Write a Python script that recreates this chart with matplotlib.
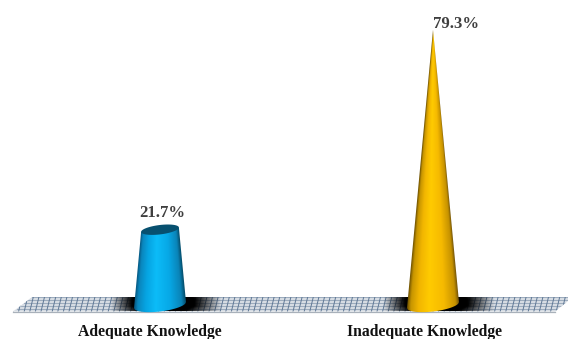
import numpy as np
import matplotlib
matplotlib.use('Agg')
import matplotlib.pyplot as plt
from matplotlib.colors import LinearSegmentedColormap
from matplotlib.patches import Polygon

categories = ['Adequate Knowledge', 'Inadequate Knowledge']
values = [21.7, 79.3]
labels = ['21.7%', '79.3%']
cone_colors = [
    [(0, '#05557e'), (0.07, '#0a86bd'), (0.22, '#06a4e2'), (0.42, '#0cbcf8'),
     (0.7, '#07a8e6'), (0.92, '#0a84b8'), (1, '#05506f')],
    [(0, '#6a4e00'), (0.07, '#c79500'), (0.22, '#f2b600'), (0.42, '#ffcb00'),
     (0.7, '#f6ba00'), (0.92, '#c69200'), (1, '#64490a')],
]
top_colors = ['#07506f', '#7a5b00']

plt.rcParams['font.family'] = ['Liberation Serif', 'DejaVu Serif']

W, H = 568, 339
BASE_PX = 305.0      # pixel row of the zero line
PX_PER_UNIT = 3.47
PX_PER_CAT = 273.0
LEFT_PX = 160.0      # pixel column of first category
HALF_W = 26.0 / PX_PER_CAT
APEX = 79.3

fig = plt.figure(figsize=(W / 100, H / 100), dpi=100)
ax = fig.add_axes([0, 0, 1, 1])
xlim = (-LEFT_PX / PX_PER_CAT, (W - LEFT_PX) / PX_PER_CAT)
ylim = ((BASE_PX - H) / PX_PER_UNIT, BASE_PX / PX_PER_UNIT)
ax.axis('off')


def dx(px):
    return px / PX_PER_CAT


def dy(px):
    return px / PX_PER_UNIT


# floor plane, sheared to look like perspective
fl_bottom, fl_top = dy(-6.5), dy(8)
fl_left, fl_right = xlim[0] + dx(13), xlim[1]
shear = dx(19)
floor = Polygon([(fl_left, fl_bottom), (fl_left + shear, fl_top), (fl_right + dx(5), fl_top),
                 (fl_right - dx(13), fl_bottom)], closed=True, fc='#d6dce3', ec='none', zorder=1)
ax.add_patch(floor)
for yy in np.linspace(fl_bottom, fl_top, 6):
    t = (yy - fl_bottom) / (fl_top - fl_bottom)
    line, = ax.plot([fl_left + t * shear, fl_right], [yy, yy], color='#93a3b6', lw=0.6, zorder=2)
    line.set_clip_path(floor)
for xx in np.arange(fl_left, fl_right + dx(20), dx(5.6)):
    line, = ax.plot([xx, xx + dx(3.5)], [fl_bottom, fl_top], color='#5f7896', lw=0.7, zorder=2)
    line.set_clip_path(floor)
ax.plot([fl_left, fl_right - dx(13)], [fl_bottom, fl_bottom], color='#a9b1ba', lw=0.9, zorder=2)

TILT = dy(3.0)
RISE = dy(6.5)

for i, (cat, val, lab) in enumerate(zip(categories, values, labels)):
    cmap = LinearSegmentedColormap.from_list('cone%d' % i, cone_colors[i])

    # soft shadow under the cone
    sx = np.linspace(i - dx(70), i + dx(80), 200)
    sy = np.linspace(fl_bottom, fl_top, 30)
    gx, gy = np.meshgrid(sx, sy)
    reach = np.where(gx > i, dx(62), dx(50))
    fade = np.clip(1 - np.abs(gx - i) / reach, 0, 1)
    vert = np.clip(1.2 - 0.45 * np.abs((gy - dy(2)) / dy(8)), 0, 1)
    rgba = np.zeros(gx.shape + (4,))
    rgba[..., 3] = np.clip(fade * vert * 2.3, 0, 1)
    im = ax.imshow(rgba, extent=(sx[0], sx[-1], sy[0], sy[-1]), origin='lower',
                   aspect='auto', zorder=3, interpolation='bilinear')
    im.set_clip_path(floor)

    # cone body: shade each pixel by its position across the tapered width
    u = np.linspace(-1, 1, 81)
    hs = np.linspace(0, val, 120)
    bx = np.linspace(i - HALF_W, i + HALF_W, 220)
    by = np.linspace(-RISE - TILT, val + RISE, 500)
    gbx, gby = np.meshgrid(bx, by)
    taper_grid = np.clip(1 - np.clip(gby, 0, None) / APEX, 0.003, 1)
    shade = np.clip((gbx - i) / (HALF_W * taper_grid), -1, 1)
    body = ax.imshow((shade + 1) / 2, extent=(bx[0], bx[-1], by[0], by[-1]), origin='lower',
                     cmap=cmap, vmin=0, vmax=1, aspect='auto', zorder=4, interpolation='bilinear')
    end_taper = 1 - val / APEX
    right = np.column_stack((i + HALF_W * (1 - hs / APEX), hs + TILT * (1 - hs / APEX)))
    left = np.column_stack((i - HALF_W * (1 - hs / APEX), hs - TILT * (1 - hs / APEX)))
    lower = np.column_stack((i + u * HALF_W, -np.sqrt(1 - u ** 2) * RISE + u * TILT))
    outline = Polygon(np.vstack((lower, right, left[::-1])), closed=True, fc='none', ec='none',
                      transform=ax.transData)
    ax.add_patch(outline)
    body.set_clip_path(outline)

    # open end of a truncated cone
    if end_taper > 0.01:
        th = np.linspace(0, 2 * np.pi, 80)
        ex = i + np.cos(th) * HALF_W * end_taper
        ey = val + (np.sin(th) * RISE + np.cos(th) * TILT) * end_taper
        ax.fill(ex, ey, color=top_colors[i], zorder=5, lw=0)

    ax.text(i + (dx(2) if i == 0 else dx(23)), val + dy(8.5 if i == 0 else -2), lab, ha='center', va='bottom',
            fontsize=12, fontweight='bold', color='#3f3f3f', zorder=6)
    ax.text(i - dx(10) if i == 0 else i - dx(8.5), dy(-26.5), cat, ha='center', va='center',
            fontsize=11.3, fontweight='bold', color='#111111', zorder=6)

ax.set_xlim(*xlim)
ax.set_ylim(*ylim)
fig.savefig('out.png', dpi=100)
